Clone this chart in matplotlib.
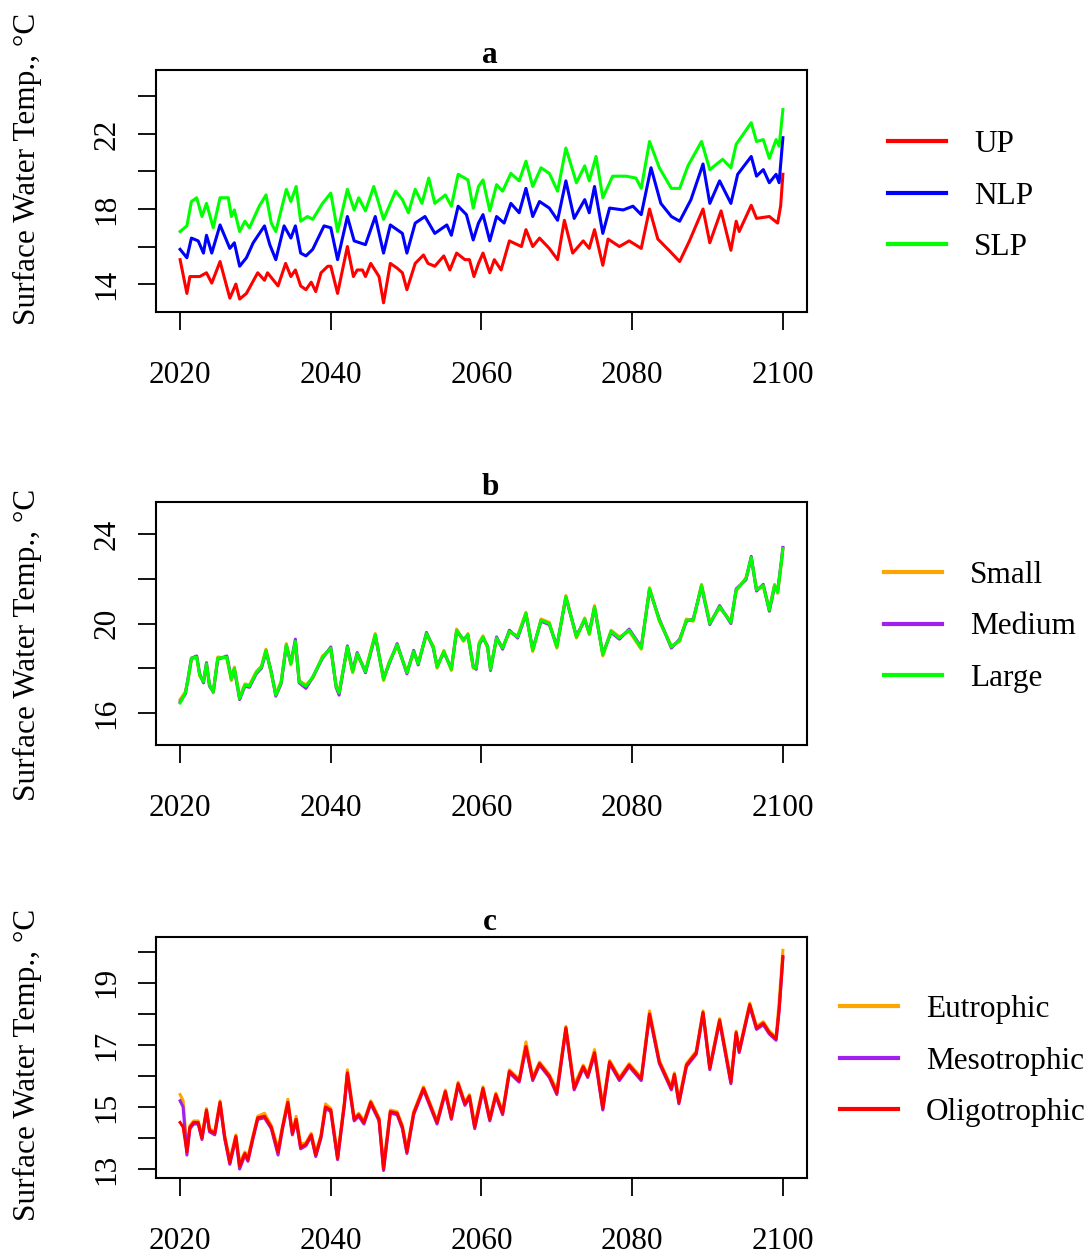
import matplotlib
matplotlib.use('Agg')
import matplotlib.pyplot as plt

plt.rcParams['font.family'] = ['Liberation Serif', 'DejaVu Serif']

# panel a : regions
up_years = [2020.0, 2020.9, 2021.3, 2022.6, 2023.5, 2024.2, 2025.3, 2026.6, 2027.4, 2027.9,
            2028.8, 2030.3, 2031.2, 2031.6, 2033.0, 2034.0, 2034.7, 2035.3, 2036.0, 2036.7,
            2037.4, 2038.0, 2038.7, 2039.6, 2040.0, 2040.9, 2042.2, 2043.0, 2043.5, 2044.2,
            2044.6, 2045.3, 2046.4, 2047.0, 2047.9, 2048.8, 2049.5, 2050.1, 2051.2, 2052.3,
            2052.9, 2053.8, 2055.0, 2055.8, 2056.7, 2057.8, 2058.4, 2059.0, 2059.6, 2060.2,
            2061.1, 2061.7, 2062.6, 2063.7, 2065.3, 2065.9, 2066.8, 2067.7, 2069.0, 2070.1,
            2071.0, 2072.1, 2073.5, 2074.3, 2075.0, 2076.1, 2076.8, 2078.3, 2079.6, 2081.2,
            2082.3, 2083.4, 2085.0, 2086.3, 2087.6, 2089.4, 2090.3, 2091.8, 2093.1, 2093.8,
            2094.2, 2095.8, 2096.5, 2098.2, 2099.3, 2099.7, 2100.0]
up = [15.3, 13.5, 14.4, 14.4, 14.6, 14.05, 15.2, 13.25, 14.0, 13.2,
      13.5, 14.6, 14.2, 14.6, 13.9, 15.1, 14.4, 14.75, 13.9, 13.7,
      14.1, 13.6, 14.6, 14.95, 14.95, 13.5, 16.0, 14.4, 14.75, 14.75,
      14.4, 15.1, 14.4, 13.0, 15.1, 14.85, 14.6, 13.7, 15.1, 15.55,
      15.1, 14.95, 15.5, 14.75, 15.65, 15.3, 15.3, 14.4, 15.1, 15.65,
      14.6, 15.3, 14.75, 16.3, 16.0, 16.9, 16.0, 16.45, 15.9, 15.3,
      17.4, 15.65, 16.3, 15.9, 16.9, 15.0, 16.4, 16.0, 16.3, 15.9,
      18.0, 16.4, 15.75, 15.2, 16.3, 18.0, 16.2, 17.9, 15.8, 17.35,
      16.8, 18.2, 17.5, 17.6, 17.25, 18.15, 19.85]

nlp_years = [2020.0, 2020.9, 2021.5, 2022.4, 2023.1, 2023.5, 2024.2, 2025.3, 2026.6, 2027.2,
             2027.9, 2028.8, 2029.7, 2031.2, 2031.9, 2032.7, 2033.8, 2034.7, 2035.3, 2036.0,
             2036.7, 2037.6, 2039.1, 2040.0, 2040.9, 2042.2, 2043.1, 2044.6, 2045.9, 2047.0,
             2047.9, 2049.5, 2050.1, 2051.2, 2052.5, 2053.8, 2055.4, 2056.0, 2056.9, 2058.0,
             2058.9, 2059.6, 2060.2, 2061.1, 2062.0, 2063.0, 2063.9, 2065.0, 2065.9, 2066.8,
             2067.7, 2069.0, 2070.1, 2071.2, 2072.3, 2073.7, 2074.3, 2075.0, 2076.1, 2077.0,
             2078.8, 2080.1, 2081.2, 2082.5, 2083.8, 2085.2, 2086.3, 2087.8, 2089.4, 2090.3,
             2091.6, 2093.1, 2094.0, 2095.8, 2096.5, 2097.4, 2098.2, 2099.1, 2099.5, 2100.0]
nlp = [15.85, 15.4, 16.45, 16.3, 15.65, 16.6, 15.65, 17.15, 15.9, 16.2,
       14.95, 15.4, 16.2, 17.1, 16.1, 15.3, 17.1, 16.45, 17.1, 15.65,
       15.5, 15.85, 17.1, 17.0, 15.3, 17.6, 16.3, 16.1, 17.6, 15.65,
       17.15, 16.7, 15.65, 17.25, 17.6, 16.7, 17.15, 16.6, 18.15, 17.7,
       16.35, 17.25, 17.7, 16.3, 17.6, 17.25, 18.3, 17.8, 19.1, 17.6,
       18.4, 18.05, 17.4, 19.5, 17.5, 18.5, 17.8, 19.2, 16.7, 18.05,
       17.95, 18.15, 17.7, 20.2, 18.3, 17.6, 17.35, 18.5, 20.4, 18.3,
       19.5, 18.3, 19.85, 20.8, 19.75, 20.1, 19.4, 19.85, 19.4, 21.8]

slp_years = [2020.0, 2020.9, 2021.5, 2022.2, 2022.9, 2023.5, 2024.4, 2025.3, 2026.4, 2026.8,
             2027.2, 2027.9, 2028.6, 2029.2, 2030.5, 2031.4, 2032.1, 2032.7, 2034.1, 2034.7,
             2035.4, 2036.0, 2036.9, 2037.6, 2038.9, 2040.0, 2040.9, 2042.2, 2043.1, 2043.7,
             2044.6, 2045.7, 2047.0, 2048.6, 2049.5, 2050.3, 2051.2, 2052.1, 2053.0, 2053.8,
             2055.2, 2056.0, 2056.9, 2058.2, 2058.9, 2059.6, 2060.2, 2061.1, 2062.0, 2062.8,
             2063.9, 2065.0, 2065.9, 2066.8, 2067.9, 2069.0, 2070.1, 2071.2, 2072.6, 2073.7,
             2074.3, 2075.2, 2076.1, 2077.4, 2079.2, 2080.5, 2081.2, 2082.3, 2083.6, 2085.2,
             2086.3, 2087.4, 2089.2, 2090.3, 2092.0, 2093.1, 2093.8, 2095.8, 2096.5, 2097.4,
             2098.2, 2099.1, 2099.5, 2100.0]
slp = [16.8, 17.1, 18.4, 18.6, 17.6, 18.3, 17.0, 18.6, 18.6, 17.6,
       17.95, 16.8, 17.35, 17.0, 18.15, 18.75, 17.25, 16.8, 19.05, 18.4,
       19.2, 17.35, 17.6, 17.45, 18.3, 18.85, 16.8, 19.05, 17.95, 18.6,
       17.9, 19.2, 17.45, 18.95, 18.5, 17.8, 19.05, 18.3, 19.65, 18.3,
       18.75, 18.15, 19.85, 19.55, 18.05, 19.2, 19.55, 17.9, 19.3, 18.95,
       19.9, 19.5, 20.55, 19.2, 20.2, 19.9, 18.95, 21.25, 19.4, 20.3,
       19.5, 20.8, 18.6, 19.75, 19.75, 19.65, 19.1, 21.6, 20.2, 19.1,
       19.1, 20.3, 21.6, 20.1, 20.65, 20.2, 21.45, 22.6, 21.6, 21.7,
       20.7, 21.7, 21.35, 23.3]

# panel b : lake size
b_years = [2020.0, 2020.7, 2021.1, 2021.5, 2022.2, 2022.6, 2023.1, 2023.5, 2023.9, 2024.4,
           2025.0, 2026.2, 2026.8, 2027.2, 2027.9, 2028.6, 2029.2, 2030.1, 2030.8, 2031.4,
           2032.1, 2032.7, 2033.4, 2034.1, 2034.7, 2035.3, 2035.8, 2036.7, 2037.6, 2038.9,
           2040.0, 2040.7, 2041.1, 2042.2, 2042.9, 2043.5, 2044.6, 2045.9, 2047.0, 2047.7,
           2048.8, 2050.1, 2051.0, 2051.6, 2052.7, 2053.6, 2054.1, 2055.0, 2056.0, 2056.7,
           2057.6, 2058.2, 2058.9, 2059.3, 2059.7, 2060.2, 2060.8, 2061.2, 2062.0, 2062.8,
           2063.7, 2064.8, 2065.9, 2066.8, 2067.9, 2069.0, 2070.0, 2071.2, 2072.6, 2073.7,
           2074.3, 2075.0, 2076.1, 2077.2, 2078.3, 2079.6, 2081.2, 2082.3, 2083.6, 2085.2,
           2086.3, 2087.2, 2088.1, 2089.2, 2090.3, 2091.6, 2093.1, 2093.8, 2095.1, 2095.8,
           2096.5, 2097.4, 2098.2, 2098.9, 2099.3, 2099.8, 2100.0]
small = [16.6, 16.95, 17.55, 18.4, 18.5, 17.65, 17.45, 18.15, 17.3, 16.9,
         18.5, 18.45, 17.45, 18.05, 16.7, 17.3, 17.25, 17.85, 18.1, 18.85,
         17.75, 16.85, 17.4, 19.1, 18.15, 19.15, 17.45, 17.25, 17.55, 18.55,
         18.85, 17.25, 16.95, 18.9, 17.8, 18.6, 17.9, 19.55, 17.45, 18.25,
         19.0, 17.85, 18.7, 18.25, 19.5, 19.0, 18.0, 18.8, 17.9, 19.75,
         19.2, 19.55, 18.0, 18.05, 19.15, 19.45, 18.9, 18.0, 19.3, 18.95,
         19.6, 19.45, 20.5, 18.75, 20.2, 20.05, 18.9, 21.25, 19.35, 20.25,
         19.5, 20.8, 18.55, 19.7, 19.4, 19.65, 18.85, 21.6, 20.1, 19.0,
         19.2, 20.2, 20.1, 21.75, 20.05, 20.7, 20.1, 21.45, 22.05, 22.9,
         21.55, 21.65, 20.65, 21.75, 21.35, 22.7, 23.3]
medium = [16.5, 16.85, 17.65, 18.45, 18.55, 17.75, 17.35, 18.25, 17.2, 16.95,
          18.4, 18.55, 17.55, 17.95, 16.6, 17.2, 17.15, 17.75, 18.0, 18.75,
          17.85, 16.75, 17.3, 19.0, 18.25, 19.3, 17.35, 17.1, 17.6, 18.45,
          18.95, 17.15, 16.8, 19.0, 17.9, 18.7, 17.8, 19.45, 17.55, 18.15,
          19.1, 17.75, 18.8, 18.15, 19.6, 18.9, 18.1, 18.7, 18.0, 19.65,
          19.3, 19.45, 18.1, 17.95, 19.05, 19.35, 19.0, 17.9, 19.4, 18.85,
          19.7, 19.35, 20.4, 18.85, 20.1, 19.95, 19.0, 21.15, 19.45, 20.15,
          19.6, 20.7, 18.65, 19.6, 19.3, 19.75, 18.95, 21.5, 20.2, 18.9,
          19.3, 20.1, 20.2, 21.65, 19.95, 20.8, 20.0, 21.55, 21.95, 23.0,
          21.45, 21.75, 20.55, 21.65, 21.45, 22.8, 23.4]
large = [16.45, 16.9, 17.6, 18.45, 18.5, 17.7, 17.4, 18.2, 17.25, 16.95,
         18.45, 18.5, 17.5, 18.0, 16.65, 17.25, 17.2, 17.8, 18.05, 18.8,
         17.8, 16.8, 17.35, 19.05, 18.2, 19.2, 17.4, 17.2, 17.6, 18.5,
         18.9, 17.2, 16.9, 18.95, 17.85, 18.65, 17.85, 19.5, 17.5, 18.2,
         19.05, 17.8, 18.75, 18.2, 19.55, 18.95, 18.05, 18.75, 17.95, 19.7,
         19.25, 19.5, 18.05, 18.0, 19.1, 19.4, 18.95, 17.95, 19.35, 18.9,
         19.65, 19.4, 20.45, 18.8, 20.15, 20.0, 18.95, 21.2, 19.4, 20.2,
         19.55, 20.75, 18.6, 19.65, 19.35, 19.7, 18.9, 21.55, 20.15, 18.95,
         19.25, 20.15, 20.15, 21.7, 20.0, 20.75, 20.05, 21.5, 22.0, 22.95,
         21.5, 21.7, 20.6, 21.7, 21.4, 22.75, 23.35]

# panel c : trophic state
c_years = [2020.0, 2020.4, 2020.9, 2021.3, 2021.8, 2022.4, 2022.9, 2023.5, 2023.9, 2024.6,
           2025.3, 2025.9, 2026.6, 2027.4, 2027.9, 2028.6, 2029.0, 2029.7, 2030.3, 2031.2,
           2032.1, 2033.0, 2033.6, 2034.3, 2034.9, 2035.4, 2036.0, 2036.7, 2037.4, 2038.0,
           2038.7, 2039.3, 2040.0, 2040.9, 2041.8, 2042.2, 2043.1, 2043.7, 2044.4, 2045.3,
           2046.4, 2047.0, 2047.9, 2048.8, 2049.5, 2050.1, 2051.0, 2052.3, 2053.2, 2054.1,
           2055.2, 2056.0, 2056.9, 2057.8, 2058.4, 2059.1, 2060.2, 2061.1, 2061.9, 2062.8,
           2063.7, 2065.0, 2065.9, 2066.8, 2067.7, 2069.0, 2070.0, 2071.2, 2072.3, 2073.5,
           2074.1, 2075.0, 2076.1, 2077.0, 2078.3, 2079.6, 2081.2, 2082.3, 2083.6, 2085.2,
           2085.6, 2086.2, 2087.2, 2088.5, 2089.4, 2090.3, 2091.6, 2093.1, 2093.8, 2094.2,
           2095.6, 2096.5, 2097.4, 2098.2, 2099.1, 2099.5, 2100.0]
eutrophic = [15.4, 15.2, 13.65, 14.4, 14.55, 14.55, 14.05, 14.95, 14.3, 14.2,
             15.2, 14.1, 13.3, 14.1, 13.2, 13.55, 13.4, 14.1, 14.7, 14.8,
             14.4, 13.65, 14.4, 15.25, 14.2, 14.7, 13.8, 13.85, 14.15, 13.55,
             14.1, 15.1, 14.95, 13.45, 15.15, 16.2, 14.65, 14.8, 14.55, 15.2,
             14.65, 13.15, 14.9, 14.85, 14.4, 13.65, 14.85, 15.65, 15.1, 14.55,
             15.55, 14.7, 15.8, 15.15, 15.4, 14.45, 15.65, 14.65, 15.45, 14.85,
             16.2, 15.9, 17.1, 15.95, 16.45, 16.05, 15.55, 17.6, 15.7, 16.35,
             16.05, 16.85, 15.05, 16.5, 15.95, 16.4, 15.95, 18.1, 16.5, 15.65,
             16.1, 15.25, 16.4, 16.8, 18.1, 16.3, 17.85, 15.9, 17.45, 16.85,
             18.35, 17.6, 17.75, 17.45, 17.25, 18.4, 20.05]
mesotrophic = [15.2, 15.0, 13.45, 14.3, 14.45, 14.45, 13.95, 14.85, 14.2, 14.1,
               15.1, 14.0, 13.15, 14.0, 13.0, 13.45, 13.25, 14.0, 14.6, 14.65,
               14.3, 13.45, 14.3, 15.1, 14.1, 14.55, 13.65, 13.75, 14.05, 13.4,
               14.0, 14.95, 14.85, 13.3, 15.05, 16.05, 14.55, 14.7, 14.45, 15.1,
               14.55, 12.95, 14.8, 14.75, 14.3, 13.5, 14.75, 15.55, 15.0, 14.45,
               15.45, 14.6, 15.7, 15.05, 15.3, 14.3, 15.55, 14.55, 15.35, 14.75,
               16.1, 15.8, 16.9, 15.85, 16.35, 15.95, 15.4, 17.5, 15.55, 16.25,
               15.95, 16.7, 14.9, 16.4, 15.85, 16.3, 15.85, 17.95, 16.4, 15.55,
               16.0, 15.1, 16.3, 16.7, 18.0, 16.2, 17.75, 15.75, 17.35, 16.75,
               18.25, 17.5, 17.65, 17.35, 17.15, 18.1, 19.8]
oligotrophic = [14.5, 14.35, 13.55, 14.35, 14.5, 14.5, 14.0, 14.9, 14.25, 14.15,
                15.15, 14.05, 13.2, 14.05, 13.1, 13.5, 13.3, 14.05, 14.65, 14.7,
                14.35, 13.55, 14.35, 15.15, 14.15, 14.6, 13.7, 13.8, 14.1, 13.45,
                14.05, 15.0, 14.9, 13.35, 15.1, 16.1, 14.6, 14.75, 14.5, 15.15,
                14.6, 13.0, 14.85, 14.8, 14.35, 13.55, 14.8, 15.6, 15.05, 14.5,
                15.5, 14.65, 15.75, 15.1, 15.35, 14.35, 15.6, 14.6, 15.4, 14.8,
                16.15, 15.85, 16.95, 15.9, 16.4, 16.0, 15.45, 17.55, 15.6, 16.3,
                16.0, 16.75, 14.95, 16.45, 15.9, 16.35, 15.9, 18.0, 16.45, 15.6,
                16.05, 15.15, 16.35, 16.75, 18.05, 16.25, 17.8, 15.8, 17.4, 16.8,
                18.3, 17.55, 17.7, 17.4, 17.2, 18.15, 19.85]

x_ticks = [2020, 2040, 2060, 2080, 2100]
ylabel = 'Surface Water Temp., \u00b0C'
fs = 22.5
lw = 2.2

fig = plt.figure(figsize=(10.88, 12.55), dpi=100)

# each panel: position, title, series, y range, ticks and where to put the labels
panels = [
    dict(pos=[156/1088, 1-312/1255, 651/1088, 242/1255], title='a',
         series=[(up_years, up, 'UP', '#ff0000'),
                 (nlp_years, nlp, 'NLP', '#0000ff'),
                 (slp_years, slp, 'SLP', '#00ff00')],
         ylim=(12.51, 25.41), yticks=[14, 16, 18, 20, 22, 24], ylabels=[14, 18, 22],
         leg=(888/1088, 1-196/1255), ylab_y=1-169/1255),
    dict(pos=[156/1088, 1-745/1255, 651/1088, 243/1255], title='b',
         series=[(b_years, small, 'Small', '#ffa500'),
                 (b_years, medium, 'Medium', '#a020f0'),
                 (b_years, large, 'Large', '#00ff00')],
         ylim=(14.57, 25.43), yticks=[16, 18, 20, 22, 24], ylabels=[16, 20, 24],
         leg=(884/1088, 1-627/1255), ylab_y=1-645/1255),
    dict(pos=[156/1088, 1-1178/1255, 651/1088, 241/1255], title='c',
         series=[(c_years, eutrophic, 'Eutrophic', '#ffa500'),
                 (c_years, mesotrophic, 'Mesotrophic', '#a020f0'),
                 (c_years, oligotrophic, 'Oligotrophic', '#ff0000')],
         ylim=(12.71, 20.48), yticks=[13, 14, 15, 16, 17, 18, 19, 20], ylabels=[13, 15, 17, 19],
         leg=(840/1088, 1-1061/1255), ylab_y=1-1065/1255),
]

for p in panels:
    ax = fig.add_axes(p['pos'])
    for xs, ys, name, col in p['series']:
        ax.plot(xs, ys, color=col, lw=lw, label=name)
    ax.set_xlim(2016.8, 2103.2)
    ax.set_ylim(*p['ylim'])
    ax.set_xticks(x_ticks)
    ax.set_xticklabels([str(t) for t in x_ticks], fontsize=fs)
    ax.set_yticks(p['yticks'])
    ax.set_yticklabels([str(t) if t in p['ylabels'] else '' for t in p['yticks']],
                       fontsize=fs, rotation=90, va='center')
    ax.tick_params(axis='x', direction='out', length=13, width=1.3, pad=22)
    ax.tick_params(axis='y', direction='out', length=13, width=1.3, pad=12)
    for s in ax.spines.values():
        s.set_linewidth(1.5)
    ax.set_title(p['title'], fontsize=fs, fontweight='bold', pad=2, x=0.513)
    fig.text(27/1088, p['ylab_y'], ylabel, rotation=90, ha='center', va='center', fontsize=fs)
    ax.legend(loc='center left', bbox_to_anchor=p['leg'], bbox_transform=fig.transFigure,
              frameon=False, fontsize=fs, handlelength=1.85, handletextpad=0.9,
              labelspacing=0.72, borderpad=0, borderaxespad=0)
    for h in ax.get_legend().get_lines():
        h.set_linewidth(3)

fig.savefig('out.png', dpi=100)
